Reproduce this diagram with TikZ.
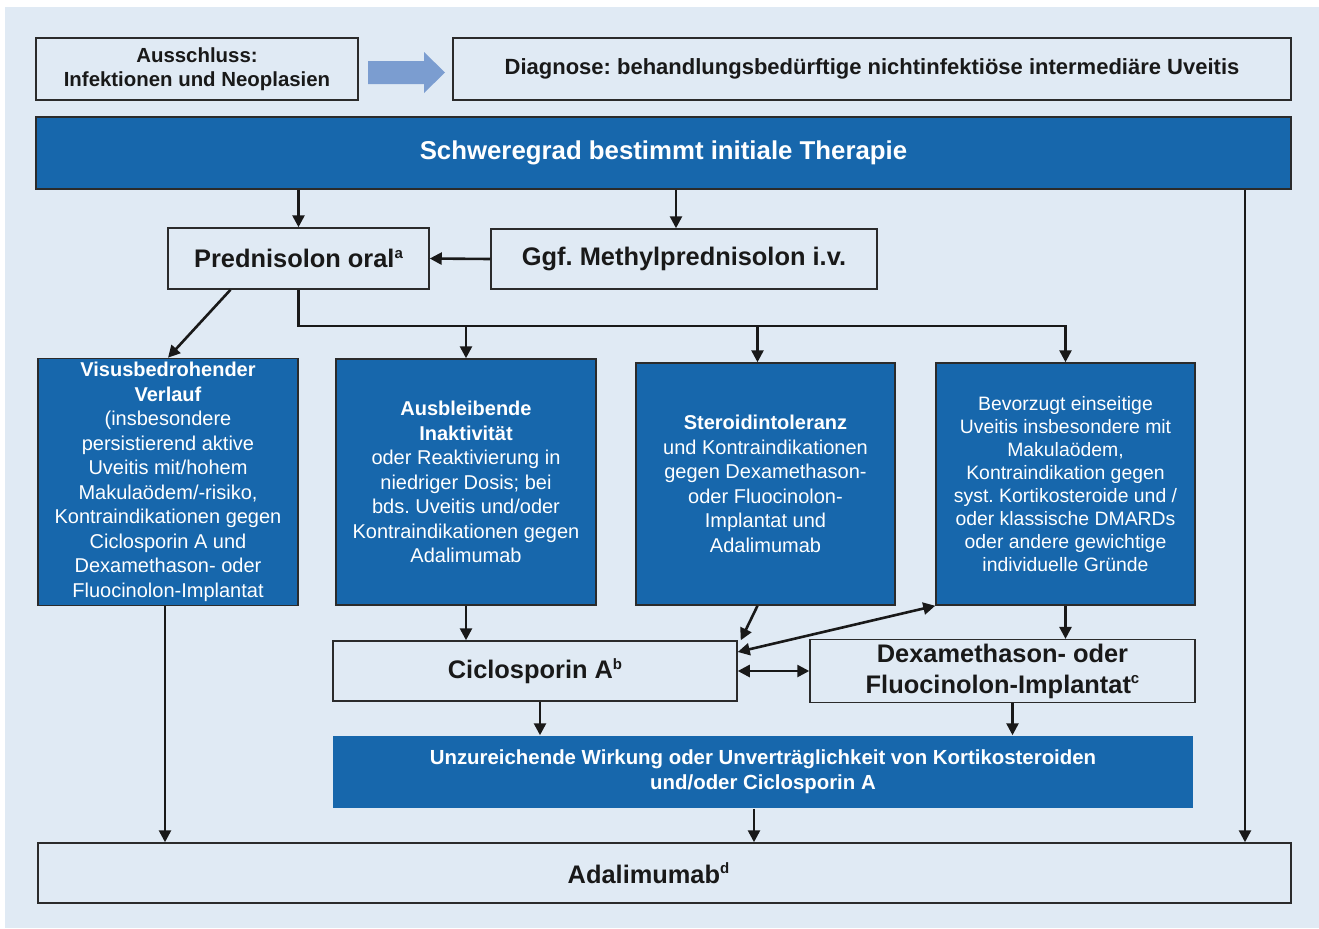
\documentclass[tikz,border=0pt]{standalone}
\usepackage{fontspec}
\setmainfont{Liberation Sans}
\usetikzlibrary{arrows.meta,positioning,calc}
\definecolor{mblue}{HTML}{1767AC}
\definecolor{mbg}{HTML}{E0EAF4}
\definecolor{marrow}{HTML}{7B9DD0}
\definecolor{mline}{HTML}{2B2B2B}
\frenchspacing
\tikzstyle{l1}=[line width=0.75pt, draw=mline]
\tikzstyle{framebox}=[rectangle, l1, text=black!90, align=center, inner sep=2pt, font=\bfseries\fontsize{12.7}{15.5}\selectfont]
\tikzstyle{bluebox}=[rectangle, l1, fill=mblue, text=white, align=center, inner sep=2pt, font=\fontsize{10}{12.25}\selectfont]
\tikzstyle{arr}=[line width=1.3pt, draw=black!90, -{Triangle[length=6pt,width=6pt]}]
\tikzstyle{darr}=[arr, {Triangle[length=6pt,width=6pt]}-{Triangle[length=6pt,width=6pt]}]
\newcommand{\fnote}[1]{\raisebox{0.7ex}{\fontsize{7.5}{7.5}\selectfont\bfseries #1}}

\begin{document}
\begin{tikzpicture}[x=0.5pt, y=-0.5pt]

    \useasboundingbox (0,0) rectangle (1319,928);
    \fill[mbg] (5,7) rectangle (1319,928);

    % top row
    \node (aus) [framebox, minimum width=161pt, minimum height=31pt, font=\bfseries\fontsize{10.2}{12}\selectfont] at (197,69) {Ausschluss:\\Infektionen und Neoplasien};
    \node (diag) [framebox, minimum width=419pt, minimum height=31pt, font=\bfseries\fontsize{11}{12}\selectfont] at (872,69) {Diagnose: behandlungsbedürftige nichtinfektiöse intermediäre Uveitis};
    \fill[marrow] (368,61) -- (424,61) -- (424,52) -- (445,72.5) -- (424,93) -- (424,84) -- (368,84) -- cycle;

    \node (schwere) [bluebox, minimum width=627.5pt, minimum height=36pt, font=\bfseries\fontsize{12.9}{15}\selectfont] at (663.5,153) {Schweregrad bestimmt initiale Therapie};

    \node (pred) [framebox, minimum width=130.5pt, minimum height=30.5pt] at (298.5,258.5) {Prednisolon oral\fnote{a}};
    \node (methyl) [framebox, minimum width=193pt, minimum height=30pt] at (684,259) {Ggf. Methylprednisolon i.v.};

    % indications
    \node (visus) [bluebox, minimum width=130pt, minimum height=123pt] at (168,482) {\textbf{Visusbedrohender}\\\textbf{Verlauf}\\(insbesondere\\persistierend aktive\\Uveitis mit/hohem\\Makulaödem/-risiko,\\Kontraindikationen gegen\\Ciclosporin A und\\Dexamethason- oder\\Fluocinolon-Implantat};
    \node (ausb) [bluebox, minimum width=130pt, minimum height=123pt] at (466,482) {\textbf{Ausbleibende}\\\textbf{Inaktivität}\\oder Reaktivierung in\\niedriger Dosis; bei\\bds. Uveitis und/oder\\Kontraindikationen gegen\\Adalimumab};
    \node (steroid) [bluebox, minimum width=129.5pt, minimum height=121pt] at (765.5,484) {\textbf{Steroidintoleranz}\\und Kontraindikationen\\gegen Dexamethason-\\oder Fluocinolon-\\Implantat und\\Adalimumab};
    \node (bevor) [bluebox, minimum width=129.5pt, minimum height=121pt, font=\fontsize{9.7}{11.5}\selectfont] at (1065.5,484) {Bevorzugt einseitige\\Uveitis insbesondere mit\\Makulaödem,\\Kontraindikation gegen\\syst. Kortikosteroide und /\\oder klassische DMARDs\\oder andere gewichtige\\individuelle Gründe};

    \node (cic) [framebox, minimum width=202pt, minimum height=30pt] at (535,671) {Ciclosporin A\fnote{b}};
    \node (dexa) [framebox, minimum width=192.5pt, minimum height=30pt] at (1002.5,671) {Dexamethason- oder\\Fluocinolon-Implantat\fnote{c}};

    \node (unz) [bluebox, draw=none, minimum width=430pt, minimum height=36pt, font=\bfseries\fontsize{10.2}{12.5}\selectfont] at (763,772) {Unzureichende Wirkung oder Unverträglichkeit von Kortikosteroiden\\und/oder Ciclosporin A};
    \node (adal) [framebox, minimum width=626.5pt, minimum height=30pt] at (664.5,873) {Adalimumab\fnote{d}\hspace*{16pt}};

    % connectors
    \coordinate (split) at (0,326);
    \coordinate (right) at (1245,0);
    \coordinate (m) at ([xshift=-4pt]methyl.north);
    \coordinate (s) at ([xshift=-4pt]steroid.north);
    \coordinate (sb) at ([xshift=-4pt]steroid.south);
    \coordinate (cb) at ([xshift=2.5pt]cic.south);
    \coordinate (db) at ([xshift=5pt]dexa.south);
    \coordinate (ub) at ([xshift=-4.5pt]unz.south);
    \coordinate (vb) at ([xshift=-1.5pt]visus.south);
    \coordinate (pb) at ([xshift=-34pt]pred.south);
    \coordinate (cu) at ([yshift=9.5pt]cic.east);

    \draw[arr] (schwere.south -| pred.north) -- (pred.north);
    \draw[arr] (schwere.south -| m) -- (m);
    \draw[arr] (schwere.south -| right) -- (adal.north -| right);
    \draw[arr] (methyl.west) -- (pred.east);
    \draw[arr] (pb) -- (visus.north);

    \draw[arr] (pred.south) -- (pred.south |- split) -| (bevor.north);
    \draw[arr] (ausb.north |- split) -- (ausb.north);
    \draw[arr] (s |- split) -- (s);

    \draw[arr] (ausb.south) -- (ausb.south |- cic.north);
    \draw[arr] (sb) -- ([xshift=1.5pt]cic.north east);
    \draw[darr] (cu) -- (bevor.south west);
    \draw[darr] (cic.east) -- (dexa.west);
    \draw[arr] (bevor.south) -- (bevor.south |- dexa.north);

    \draw[arr] (cb) -- (cb |- unz.north);
    \draw[arr] (db) -- (db |- unz.north);
    \draw[arr] (ub) -- (ub |- adal.north);
    \draw[arr] (vb) -- (vb |- adal.north);

\end{tikzpicture}
\end{document}
